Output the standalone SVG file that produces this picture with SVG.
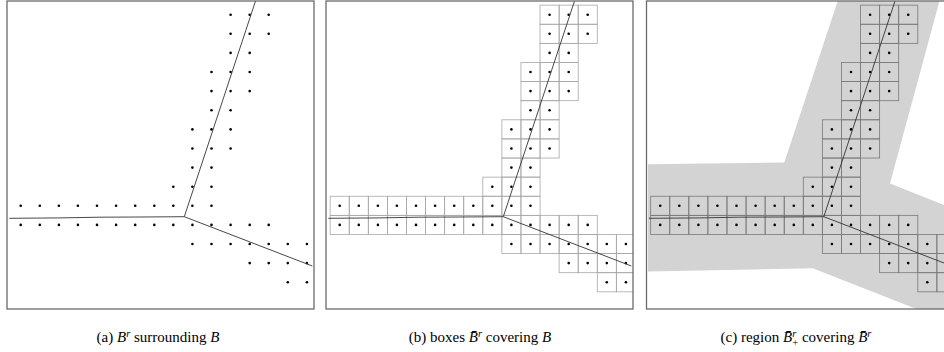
<svg xmlns="http://www.w3.org/2000/svg" xmlns:xlink="http://www.w3.org/1999/xlink" width="944" height="352" viewBox="0 0 944 352">
<style>
.frame{fill:none;stroke:#6a6a6a;stroke-width:1.3}
.dot{fill:#000}
.ln{fill:none;stroke:#333;stroke-width:0.9;stroke-linejoin:round}
.cap{font-family:"Liberation Serif","Times New Roman",serif;font-size:15px;fill:#000}
.it{font-style:italic}
</style>
<defs>
<clipPath id="clip"><rect x="7" y="1" width="307" height="308"/></clipPath>
<g id="dots" class="dot">
<circle cx="230.6" cy="14.7" r="1.3"/><circle cx="249.7" cy="14.7" r="1.3"/><circle cx="268.7" cy="14.7" r="1.3"/>
<circle cx="230.6" cy="33.8" r="1.3"/><circle cx="249.7" cy="33.8" r="1.3"/><circle cx="268.7" cy="33.8" r="1.3"/>
<circle cx="230.6" cy="52.9" r="1.3"/><circle cx="249.7" cy="52.9" r="1.3"/>
<circle cx="211.5" cy="72.0" r="1.3"/><circle cx="230.6" cy="72.0" r="1.3"/><circle cx="249.7" cy="72.0" r="1.3"/>
<circle cx="211.5" cy="91.1" r="1.3"/><circle cx="230.6" cy="91.1" r="1.3"/><circle cx="249.7" cy="91.1" r="1.3"/>
<circle cx="211.5" cy="110.3" r="1.3"/><circle cx="230.6" cy="110.3" r="1.3"/>
<circle cx="192.4" cy="129.4" r="1.3"/><circle cx="211.5" cy="129.4" r="1.3"/><circle cx="230.6" cy="129.4" r="1.3"/>
<circle cx="192.4" cy="148.5" r="1.3"/><circle cx="211.5" cy="148.5" r="1.3"/><circle cx="230.6" cy="148.5" r="1.3"/>
<circle cx="192.4" cy="167.6" r="1.3"/><circle cx="211.5" cy="167.6" r="1.3"/>
<circle cx="173.3" cy="186.7" r="1.3"/><circle cx="192.4" cy="186.7" r="1.3"/><circle cx="211.5" cy="186.7" r="1.3"/>
<circle cx="20.7" cy="205.8" r="1.3"/><circle cx="39.8" cy="205.8" r="1.3"/><circle cx="58.9" cy="205.8" r="1.3"/><circle cx="77.9" cy="205.8" r="1.3"/><circle cx="97.0" cy="205.8" r="1.3"/><circle cx="116.1" cy="205.8" r="1.3"/><circle cx="135.2" cy="205.8" r="1.3"/><circle cx="154.3" cy="205.8" r="1.3"/><circle cx="173.3" cy="205.8" r="1.3"/><circle cx="192.4" cy="205.8" r="1.3"/><circle cx="211.5" cy="205.8" r="1.3"/>
<circle cx="20.7" cy="224.9" r="1.3"/><circle cx="39.8" cy="224.9" r="1.3"/><circle cx="58.9" cy="224.9" r="1.3"/><circle cx="77.9" cy="224.9" r="1.3"/><circle cx="97.0" cy="224.9" r="1.3"/><circle cx="116.1" cy="224.9" r="1.3"/><circle cx="135.2" cy="224.9" r="1.3"/><circle cx="154.3" cy="224.9" r="1.3"/><circle cx="173.3" cy="224.9" r="1.3"/><circle cx="192.4" cy="224.9" r="1.3"/><circle cx="211.5" cy="224.9" r="1.3"/><circle cx="230.6" cy="224.9" r="1.3"/><circle cx="249.7" cy="224.9" r="1.3"/><circle cx="268.7" cy="224.9" r="1.3"/>
<circle cx="192.4" cy="244.0" r="1.3"/><circle cx="211.5" cy="244.0" r="1.3"/><circle cx="230.6" cy="244.0" r="1.3"/><circle cx="249.7" cy="244.0" r="1.3"/><circle cx="268.7" cy="244.0" r="1.3"/><circle cx="287.8" cy="244.0" r="1.3"/><circle cx="306.9" cy="244.0" r="1.3"/>
<circle cx="249.7" cy="263.1" r="1.3"/><circle cx="268.7" cy="263.1" r="1.3"/><circle cx="287.8" cy="263.1" r="1.3"/><circle cx="306.9" cy="263.1" r="1.3"/>
<circle cx="287.8" cy="282.2" r="1.3"/><circle cx="306.9" cy="282.2" r="1.3"/>
</g>
<g id="boxes" fill="none">
<rect x="221.04" y="5.15" width="19.08" height="19.11"/><rect x="240.12" y="5.15" width="19.08" height="19.11"/><rect x="259.2" y="5.15" width="19.08" height="19.11"/>
<rect x="221.04" y="24.26" width="19.08" height="19.11"/><rect x="240.12" y="24.26" width="19.08" height="19.11"/><rect x="259.2" y="24.26" width="19.08" height="19.11"/>
<rect x="221.04" y="43.37" width="19.08" height="19.11"/><rect x="240.12" y="43.37" width="19.08" height="19.11"/>
<rect x="201.96" y="62.48" width="19.08" height="19.11"/><rect x="221.04" y="62.48" width="19.08" height="19.11"/><rect x="240.12" y="62.48" width="19.08" height="19.11"/>
<rect x="201.96" y="81.59" width="19.08" height="19.11"/><rect x="221.04" y="81.59" width="19.08" height="19.11"/><rect x="240.12" y="81.59" width="19.08" height="19.11"/>
<rect x="201.96" y="100.7" width="19.08" height="19.11"/><rect x="221.04" y="100.7" width="19.08" height="19.11"/>
<rect x="182.88" y="119.81" width="19.08" height="19.11"/><rect x="201.96" y="119.81" width="19.08" height="19.11"/><rect x="221.04" y="119.81" width="19.08" height="19.11"/>
<rect x="182.88" y="138.92" width="19.08" height="19.11"/><rect x="201.96" y="138.92" width="19.08" height="19.11"/><rect x="221.04" y="138.92" width="19.08" height="19.11"/>
<rect x="182.88" y="158.03" width="19.08" height="19.11"/><rect x="201.96" y="158.03" width="19.08" height="19.11"/>
<rect x="163.8" y="177.14" width="19.08" height="19.11"/><rect x="182.88" y="177.14" width="19.08" height="19.11"/><rect x="201.96" y="177.14" width="19.08" height="19.11"/>
<rect x="11.16" y="196.25" width="19.08" height="19.11"/><rect x="30.24" y="196.25" width="19.08" height="19.11"/><rect x="49.32" y="196.25" width="19.08" height="19.11"/><rect x="68.4" y="196.25" width="19.08" height="19.11"/><rect x="87.48" y="196.25" width="19.08" height="19.11"/><rect x="106.56" y="196.25" width="19.08" height="19.11"/><rect x="125.64" y="196.25" width="19.08" height="19.11"/><rect x="144.72" y="196.25" width="19.08" height="19.11"/><rect x="163.8" y="196.25" width="19.08" height="19.11"/><rect x="182.88" y="196.25" width="19.08" height="19.11"/><rect x="201.96" y="196.25" width="19.08" height="19.11"/>
<rect x="11.16" y="215.36" width="19.08" height="19.11"/><rect x="30.24" y="215.36" width="19.08" height="19.11"/><rect x="49.32" y="215.36" width="19.08" height="19.11"/><rect x="68.4" y="215.36" width="19.08" height="19.11"/><rect x="87.48" y="215.36" width="19.08" height="19.11"/><rect x="106.56" y="215.36" width="19.08" height="19.11"/><rect x="125.64" y="215.36" width="19.08" height="19.11"/><rect x="144.72" y="215.36" width="19.08" height="19.11"/><rect x="163.8" y="215.36" width="19.08" height="19.11"/><rect x="182.88" y="215.36" width="19.08" height="19.11"/><rect x="201.96" y="215.36" width="19.08" height="19.11"/><rect x="221.04" y="215.36" width="19.08" height="19.11"/><rect x="240.12" y="215.36" width="19.08" height="19.11"/><rect x="259.2" y="215.36" width="19.08" height="19.11"/>
<rect x="182.88" y="234.47" width="19.08" height="19.11"/><rect x="201.96" y="234.47" width="19.08" height="19.11"/><rect x="221.04" y="234.47" width="19.08" height="19.11"/><rect x="240.12" y="234.47" width="19.08" height="19.11"/><rect x="259.2" y="234.47" width="19.08" height="19.11"/><rect x="278.28" y="234.47" width="19.08" height="19.11"/><rect x="297.36" y="234.47" width="19.08" height="19.11"/>
<rect x="240.12" y="253.58" width="19.08" height="19.11"/><rect x="259.2" y="253.58" width="19.08" height="19.11"/><rect x="278.28" y="253.58" width="19.08" height="19.11"/><rect x="297.36" y="253.58" width="19.08" height="19.11"/>
<rect x="278.28" y="272.69" width="19.08" height="19.11"/><rect x="297.36" y="272.69" width="19.08" height="19.11"/>
</g>
<g id="curves" class="ln">
<path d="M9.3 218.3 L60 217.9 L100 217.2 L140 217.0 L184.3 216.7 L255.5 1"/>
<path d="M184.3 216.7 L312.3 266"/>
</g>
</defs>

<g id="panel-a">
<g clip-path="url(#clip)">
<use xlink:href="#dots"/>
<use xlink:href="#curves"/>
</g>
<rect class="frame" x="7" y="1" width="307" height="308"/>
</g>

<g id="panel-b" transform="translate(319,0)">
<g clip-path="url(#clip)">
<use xlink:href="#boxes" stroke="#a8a8a8" stroke-width="0.8"/>
<use xlink:href="#dots"/>
<use xlink:href="#curves"/>
</g>
<rect class="frame" x="7" y="1" width="307" height="308"/>
</g>

<g id="panel-c" transform="translate(639.5,0)">
<g clip-path="url(#clip)">
<polygon fill="#d3d3d3" points="198.2,1 144.8,162.5 8.5,164.3 8.5,271.5 173.2,268.3 277,309 330,309 330,215 250.5,183.5 300,1"/>
<use xlink:href="#boxes" stroke="#7a7a7a" stroke-width="0.8"/>
<use xlink:href="#dots"/>
<use xlink:href="#curves"/>
</g>
<rect class="frame" x="7" y="1" width="307" height="308"/>
</g>

<g id="captions" class="cap">
<text x="158" y="342" text-anchor="middle">(a) <tspan class="it">B</tspan><tspan class="it" font-size="10.5" dy="-5.5">r</tspan><tspan dy="5.5"> surrounding </tspan><tspan class="it">B</tspan></text>
<text x="480" y="342" text-anchor="middle">(b) boxes <tspan class="it">B̄</tspan><tspan class="it" font-size="10.5" dy="-5.5">r</tspan><tspan dy="5.5"> covering </tspan><tspan class="it">B</tspan></text>
<text x="796" y="342" text-anchor="middle">(c) region <tspan class="it">B̄</tspan><tspan class="it" font-size="10.5" dy="-5.5">r</tspan><tspan font-size="10.5" dx="-4" dy="9.5">+</tspan><tspan dy="-4"> covering </tspan><tspan class="it">B̄</tspan><tspan class="it" font-size="10.5" dy="-5.5">r</tspan></text>
</g>
</svg>
